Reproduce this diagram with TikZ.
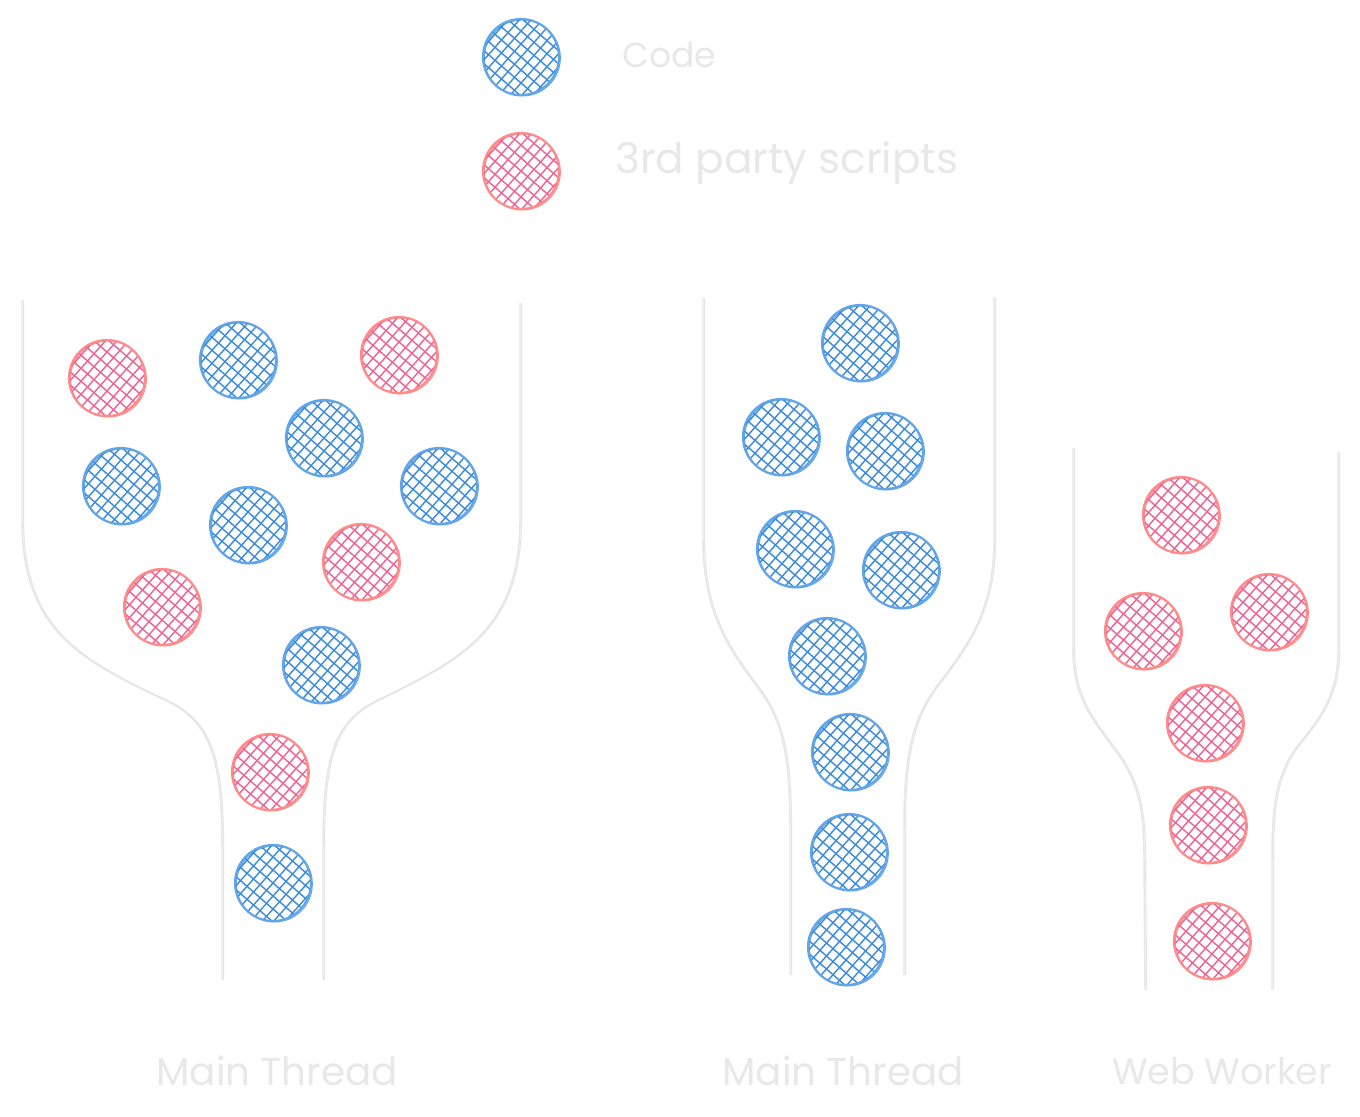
\documentclass[tikz,border=0pt]{standalone}
\usepackage{fontspec}
\setmainfont{Poppins}
\usetikzlibrary{calc}
\definecolor{bluestroke}{HTML}{62A4E8}
\definecolor{bluehatch}{HTML}{3A8BDE}
\definecolor{pinkstroke}{HTML}{FF8A8A}
\definecolor{pinkhatch}{HTML}{EF6394}
\definecolor{linegray}{HTML}{E6E6E6}
\definecolor{textgray}{HTML}{E8E8E8}
\begin{document}
\begin{tikzpicture}[x=0.75pt,y=-0.75pt,
  ball/.style={circle, inner sep=0pt, minimum size=57pt, draw=#1stroke, line width=1.6pt,
    preaction={draw=#1stroke, line width=0.8pt, transform canvas={xshift=1pt,yshift=-0.7pt}},
    path picture={
      \foreach \d in {-104,-91,...,104}{
        \draw[#1hatch, line width=1.05pt] ([shift={(-55,{-48+\d})}]path picture bounding box.center) -- ([shift={(55,{48+\d})}]path picture bounding box.center);
        \draw[#1hatch, line width=1.05pt] ([shift={(-55,{62+\d})}]path picture bounding box.center) -- ([shift={(55,{-62+\d})}]path picture bounding box.center);
      }
    }},
  funnel/.style={draw=linegray, line width=1.1pt,
    preaction={draw=linegray, line width=0.8pt, transform canvas={xshift=1.2pt}}},
  lbl/.style={text=textgray, inner sep=0pt}
]
\useasboundingbox[fill=white] (0,0) rectangle (1360,1117);

% legend
\node[ball=blue] (legcode) at (521,57) {};
\node[ball=pink] (legthird) at (521,171) {};
\node[lbl, anchor=west] (tcode) at (622,55) {\resizebox{70.5pt}{!}{Code}};
\node[lbl, anchor=west] (tthird) at (615,163) {\resizebox{257pt}{!}{3rd party scripts}};

% funnel 1
\draw[funnel] (22,300) -- (22,520) .. controls (22,630) and (80,660) .. (165,700) .. controls (212,722) and (222,760) .. (222,850) -- (222,980);
\draw[funnel] (520,303) -- (520,520) .. controls (520,630) and (460,660) .. (378,700) .. controls (332,722) and (323,760) .. (323,850) -- (323,980);

% funnel 2
\draw[funnel] (703,298) -- (703,540) .. controls (703,615) and (730,650) .. (758,688) .. controls (784,722) and (790,760) .. (790,830) -- (790,975);
\draw[funnel] (994,297) -- (994,540) .. controls (994,610) and (968,645) .. (940,682) .. controls (910,720) and (904,760) .. (904,830) -- (904,975);

% funnel 3
\draw[funnel] (1073,448) -- (1073,650) .. controls (1073,700) and (1095,722) .. (1115,750) .. controls (1139,782) and (1144,810) .. (1144,860) -- (1145,990);
\draw[funnel] (1338,452) -- (1338,650) .. controls (1338,700) and (1316,722) .. (1296,748) .. controls (1275,777) and (1272,810) .. (1272,860) -- (1272,990);

% balls funnel 1
\node[ball=pink] (a1) at (107,378) {};
\node[ball=blue] (a2) at (238,360) {};
\node[ball=pink] (a3) at (399,355) {};
\node[ball=blue] (a4) at (324,438) {};
\node[ball=blue] (a5) at (121,486) {};
\node[ball=blue] (a6) at (439,486) {};
\node[ball=blue] (a7) at (248,525) {};
\node[ball=pink] (a8) at (361,562) {};
\node[ball=pink] (a9) at (162,607) {};
\node[ball=blue] (a10) at (321,665) {};
\node[ball=pink] (a11) at (270,772) {};
\node[ball=blue] (a12) at (273,883) {};

% balls funnel 2
\node[ball=blue] (b1) at (860,343) {};
\node[ball=blue] (b2) at (781,437) {};
\node[ball=blue] (b3) at (885,451) {};
\node[ball=blue] (b4) at (795,549) {};
\node[ball=blue] (b5) at (901,570) {};
\node[ball=blue] (b6) at (827,656) {};
\node[ball=blue] (b7) at (850,752) {};
\node[ball=blue] (b8) at (849,852) {};
\node[ball=blue] (b9) at (846,947) {};

% balls funnel 3
\node[ball=pink] (c1) at (1181,515) {};
\node[ball=pink] (c2) at (1143,631) {};
\node[ball=pink] (c3) at (1269,612) {};
\node[ball=pink] (c4) at (1205,723) {};
\node[ball=pink] (c5) at (1208,825) {};
\node[ball=pink] (c6) at (1212,941) {};

% labels
\node[lbl] (m1) at (277,1071) {\resizebox{181pt}{!}{Main Thread}};
\node[lbl] (m2) at (843,1071) {\resizebox{181pt}{!}{Main Thread}};
\node[lbl] (w1) at (1222,1071) {\resizebox{165pt}{!}{Web Worker}};
\end{tikzpicture}
\end{document}
